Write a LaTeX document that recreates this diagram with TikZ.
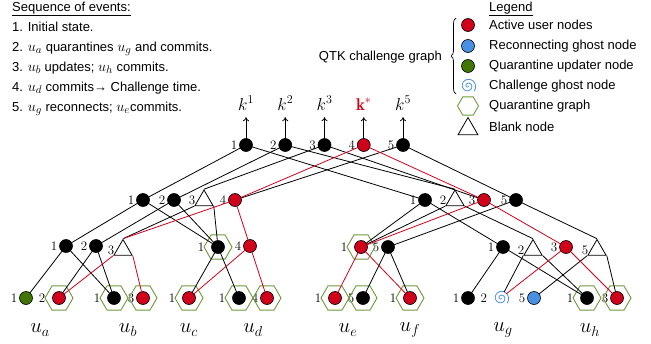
\documentclass[tikz,border=0pt]{standalone}
\usepackage{fontspec}
\newfontfamily\arialf{Liberation Sans}
\usetikzlibrary{shapes.geometric,decorations.pathreplacing,arrows.meta}

\definecolor{actred}{RGB}{208,2,27}
\definecolor{ghostblue}{RGB}{74,144,226}
\definecolor{updgreen}{RGB}{65,117,5}
\definecolor{quargreen}{RGB}{110,152,58}

% user names inside the sans text
\newcommand{\usr}[1]{{\fontsize{15}{15}\selectfont$u_{#1}$}}

\tikzset{
  dot/.style = {circle, draw=black, fill=black, line width=0.6pt,
    minimum size=13pt, inner sep=0pt, outer sep=0pt},
  act/.style = {dot, fill=actred},
  ghost/.style = {dot, fill=ghostblue},
  updr/.style = {dot, fill=updgreen},
  swirl/.style = {circle, minimum size=13pt, inner sep=0pt},
  blank/.style = {regular polygon, regular polygon sides=3, draw,
    line width=0.8pt, minimum size=21pt, inner sep=0pt},
  qhex/.style = {regular polygon, regular polygon sides=6, draw=quargreen,
    line width=0.9pt, minimum size=28pt, inner sep=0pt},
  num/.style = {font=\fontsize{13}{15}\selectfont, inner sep=1pt},
  far/.style = {label distance=6pt},
  keylab/.style = {font=\fontsize{17}{20}\selectfont, inner sep=1pt, anchor=base},
  user/.style = {font=\fontsize{20}{22}\selectfont, inner sep=0pt},
  txt/.style = {font=\arialf\fontsize{13}{15}\selectfont, inner sep=0pt},
  link/.style = {line width=0.8pt},
  rlink/.style = {link, draw=actred},
  keyarr/.style = {-{To[length=4pt, width=6pt]}, line width=0.8pt, shorten >=6pt},
  spiral/.pic = {
    \draw[ghostblue, line width=0.8pt] plot[domain=0:760, samples=70, smooth]
      ({0.0105*\x*cos(\x)}, {0.0105*\x*sin(\x)});
  }
}

\begin{document}
\begin{tikzpicture}[x=1pt, y=-1pt, node distance=39.25pt, label distance=1pt]
  \useasboundingbox (0,0) rectangle (651,343);

  % sequence of events
  \node[txt, anchor=base west] (seq) at (12,11) {\underline{Sequence of events:}};
  \node[txt, anchor=base west] (ev1) at (12,31) {1. Initial state.};
  \node[txt, anchor=base west] (ev2) at (12,51) {2. \usr{a} quarantines \usr{g} and commits.};
  \node[txt, anchor=base west] (ev3) at (12,71) {3. \usr{b} updates; \usr{h} commits.};
  \node[txt, anchor=base west] (ev4) at (12,91) {4. \usr{d} commits→ Challenge time.};
  \node[txt, anchor=base west] (ev5) at (12,111) {5. \usr{g} reconnects; \usr{e}commits.};

  % legend
  \node[txt, anchor=base west] (leg) at (489,11) {\underline{Legend}};
  \node[act] (lg1) at (468,25) {};
  \node[txt, anchor=west] (lgt1) at (489,25) {Active user nodes};
  \node[ghost] (lg2) at (468,46) {};
  \node[txt, anchor=west] (lgt2) at (489,46) {Reconnecting ghost node};
  \node[updr] (lg3) at (468,66) {};
  \node[txt, anchor=west] (lgt3) at (489,66) {Quarantine updater node};
  \node[swirl] (lg4) at (468,86) {};
  \pic (lgs) at (lg4) {spiral};
  \node[txt, anchor=west] (lgt4) at (489,86) {Challenge ghost node};
  \node[qhex, minimum size=21pt] (lg5) at (468,106) {};
  \node[txt, anchor=west] (lgt5) at (489,106) {Quarantine graph};
  \node[blank, minimum size=23pt] (lg6) at (468,129) {};
  \node[txt, anchor=west] (lgt6) at (489,127) {Blank node};
  \coordinate (bb) at (456,94);
  \coordinate (bt) at (456,18);
  \draw[decorate, decoration={brace, amplitude=5pt}, line width=0.7pt] (bb) -- (bt);
  \node[txt, anchor=east] (qtk) at (442,57) {QTK challenge graph};

  % root keys
  \node[dot, label={[num]left:1}] (k1) at (246,145) {};
  \node[dot, right of = k1, label={[num]left:2}] (k2) {};
  \node[dot, right of = k2, label={[num]left:3}] (k3) {};
  \node[act, right of = k3, label={[num]left:4}] (k4) {};
  \node[dot, right of = k4, label={[num]left:5}] (k5) {};
  \node[keylab] (t1) at (k1 |- 0,110) {$k^{1}$};
  \node[keylab] (t2) at (k2 |- 0,110) {$k^{2}$};
  \node[keylab] (t3) at (k3 |- 0,110) {$k^{3}$};
  \node[keylab, text=actred] (t4) at (k4 |- 0,110) {$\mathbf{k}^{*}$};
  \node[keylab] (t5) at (k5 |- 0,110) {$k^{5}$};
  \draw[keyarr] (k1) -- (t1);
  \draw[keyarr] (k2) -- (t2);
  \draw[keyarr] (k3) -- (t3);
  \draw[keyarr] (k4) -- (t4);
  \draw[keyarr] (k5) -- (t5);

  % level 1
  \node[dot, label={[num]left:1}] (L1) at (143,200) {};
  \node[dot, label={[num]left:2}] (L2) at (174,200) {};
  \node[blank, label={[num]left:3}] (L3) at (204,200.5) {};
  \node[act, label={[num]left:4}] (L4) at (235,200) {};
  \node[dot, label={[num]left:1}] (R1) at (425,200) {};
  \node[blank, label={[num]left:2}] (R2) at (455,200.5) {};
  \node[act, label={[num]left:3}] (R3) at (484,200) {};
  \node[dot, label={[num]left:5}] (R5) at (516,200) {};

  % level 2
  \node[dot, label={[num]left:1}] (LL1) at (66,246) {};
  \node[dot, label={[num]left:2}] (LL2) at (96,246) {};
  \node[blank, label={[num]left:3}] (LL3) at (123,250) {};
  \node[dot, label={[num, far]left:1}] (LR1) at (218,247) {};
  \node[act, label={[num]left:4}] (LR4) at (250,246) {};
  \node[act, label={[num, far]left:1}] (RL1) at (361,247) {};
  \node[dot, label={[num]left:5}] (RL5) at (388,247) {};
  \node[dot, label={[num]left:1}] (RR1) at (503,247) {};
  \node[blank, label={[num]left:2}] (RR2) at (533,250) {};
  \node[act, label={[num]left:3}] (RR3) at (566,247) {};
  \node[blank, label={[num]left:5}] (RR5) at (597,250) {};
  \node[qhex] (LR1q) at (LR1) {};
  \node[qhex] (RL1q) at (RL1) {};

  % leaves
  \node[updr, label={[num]left:1}] (a1) at (26,298) {};
  \node[act, label={[num, far]left:2}] (a2) at (59,298) {};
  \node[dot, label={[num, far]left:1}] (b1) at (114,298) {};
  \node[act, label={[num]left:3}] (b3) at (143,298) {};
  \node[act, label={[num, far]left:1}] (c1) at (189,298) {};
  \node[dot, label={[num, far]left:1}] (d1) at (239,298) {};
  \node[act, label={[num]left:4}] (d4) at (267,298) {};
  \node[act, label={[num, far]left:1}] (e1) at (335,298) {};
  \node[dot, label={[num]left:5}] (e5) at (363,298) {};
  \node[act, label={[num, far]left:1}] (f1) at (410,298) {};
  \node[dot, label={[num]left:1}] (g1) at (468,298) {};
  \node[swirl, label={[num, label distance=6pt]left:2}] (g2) at (501,298) {};
  \pic (g2s) at (g2) {spiral};
  \node[ghost, label={[num]left:5}] (g5) at (534,298) {};
  \node[dot, label={[num, far]left:1}] (h1) at (587,298) {};
  \node[act, label={[num]left:3}] (h3) at (617,298) {};
  \node[qhex] (a2q) at (a2) {};
  \node[qhex] (b1q) at (b1) {};
  \node[qhex] (b3q) at (b3) {};
  \node[qhex] (c1q) at (c1) {};
  \node[qhex] (d1q) at (d1) {};
  \node[qhex] (d4q) at (d4) {};
  \node[qhex] (e1q) at (e1) {};
  \node[qhex] (e5q) at (e5) {};
  \node[qhex] (f1q) at (f1) {};
  \node[qhex] (h1q) at (h1) {};
  \node[qhex] (h3q) at (h3) {};

  % users
  \node[user] (ua) at (40,330) {$u_a$};
  \node[user] (ub) at (128,330) {$u_b$};
  \node[user] (uc) at (189,330) {$u_c$};
  \node[user] (ud) at (253,330) {$u_d$};
  \node[user] (ue) at (348,330) {$u_e$};
  \node[user] (uf) at (410,330) {$u_f$};
  \node[user] (ug) at (503,330) {$u_g$};
  \node[user] (uh) at (590,330) {$u_h$};

  % tree edges
  \draw[link]
    (k1) edge (L1)
    (k1) edge (R1)
    (k2) edge (L2)
    (k2) edge (R2.corner 1)
    (k3) edge (L3.corner 1)
    (k3) edge (R3)
    (k5) edge (L4)
    (k5) edge (R5)
    (L1) edge (LL1)
    (L1) edge (LR1)
    (L2) edge (LL2)
    (L2) edge (LR1)
    (L3.corner 2) edge (LL3.corner 1)
    (L3.corner 3) edge (LR1)
    (R1) edge (RL1)
    (R1) edge (RR1)
    (R2.corner 2) edge (RL1)
    (R2.corner 3) edge (RR2.corner 1)
    (R5) edge (RL5)
    (R5) edge (RR5.corner 1)
    (LL1) edge (a1)
    (LL1) edge (b1)
    (LL2) edge (a2)
    (LL2) edge (b1)
    (LR1) edge (c1)
    (LR1) edge (d1)
    (RL5) edge (e5)
    (RL5) edge (f1)
    (RR1) edge (g1)
    (RR1) edge (h1)
    (RR2.corner 2) edge (g2)
    (RR2.corner 3) edge (h1)
    (RR5.corner 2) edge (g5)
    (RR5.corner 3) edge (h3)
  ;
  \draw[rlink]
    (k4) edge (L4)
    (k4) edge (R3)
    (L4) edge (LL3.corner 1)
    (L4) edge (LR4)
    (R3) edge (RL1)
    (R3) edge (RR3)
    (LL3.corner 2) edge (a2)
    (LL3.corner 3) edge (b3)
    (LR4) edge (c1)
    (LR4) edge (d4)
    (RL1) edge (e1)
    (RL1) edge (f1)
    (RR3) edge (g2)
    (RR3) edge (h3)
  ;
\end{tikzpicture}
\end{document}
